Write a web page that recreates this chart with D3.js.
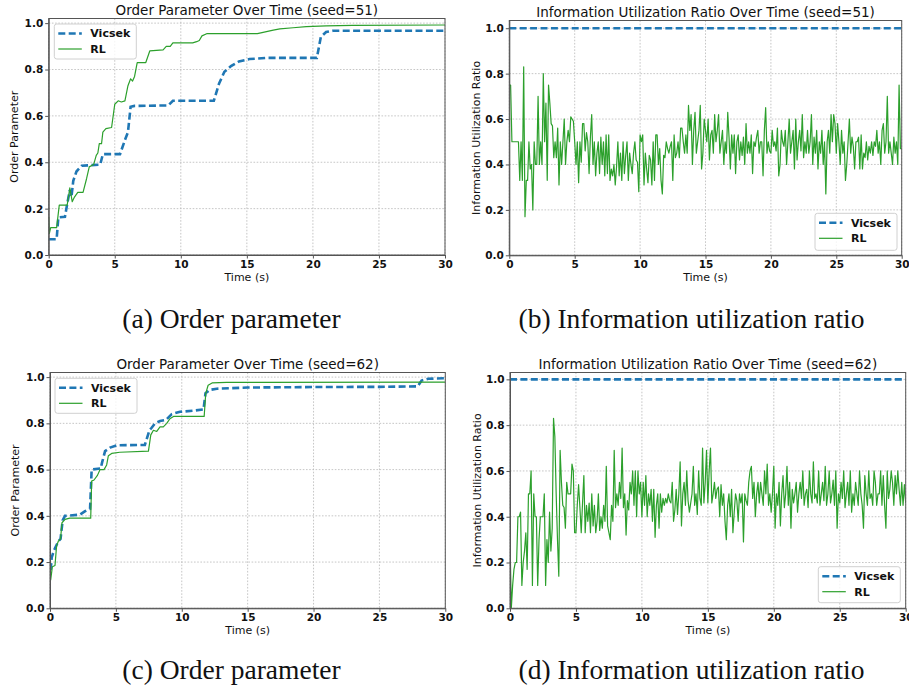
<!DOCTYPE html>
<html lang="en">
<head>
<meta charset="UTF-8">
<title>Order parameter and information utilization</title>
<script src="https://cdn.jsdelivr.net/npm/d3@7"></script>
<style>
  body { margin: 0; background: #fff; }
  svg { display: block; font-family: "DejaVu Sans", sans-serif; }
  .grid line { stroke: #b8b8b8; stroke-dasharray: 1.6,1.6; stroke-width: 0.8; }
  .axis path, .axis line { stroke: #555; stroke-width: 1; }
  .axis text { font-weight: bold; font-size: 10.5px; fill: #111; font-family: "DejaVu Sans", sans-serif; }
  .title { font-size: 13.5px; fill: #111; }
  .alabel { font-size: 11px; fill: #111; }
  .legend text { font-weight: bold; font-size: 11px; fill: #111; }
  .caption { font-family: "Liberation Serif", serif; font-size: 27.5px; fill: #111; }
</style>
</head>
<body>
<svg width="909" height="688"></svg>
<script>
var xTicks = [0, 5, 10, 15, 20, 25, 30];
var yTicks = [0, 0.2, 0.4, 0.6, 0.8, 1.0];
var seriesNames = ["Vicsek", "RL"];
var dt = 0.1;

// order parameter, seed 51  [time, value]
var order51Vicsek = [[0,0.068],[0.6,0.068],[0.73,0.162],[1.23,0.165],[1.4,0.22],[1.6,0.28],[1.72,0.25],[1.86,0.32],[2.1,0.36],[2.5,0.385],[3.9,0.39],[4.1,0.435],[5.4,0.435],[5.8,0.5],[6.0,0.53],[6.2,0.639],[6.5,0.643],[9.05,0.645],[9.4,0.665],[12.5,0.665],[12.9,0.74],[13.3,0.79],[13.8,0.815],[14.4,0.835],[15.2,0.845],[16.5,0.85],[20.3,0.85],[20.6,0.94],[21.0,0.962],[21.5,0.967],[30,0.967]];
var order51RL = [[0,0.165],[0.05,0.093],[0.15,0.118],[0.6,0.118],[0.8,0.215],[1.4,0.215],[1.6,0.29],[1.78,0.23],[1.95,0.25],[2.2,0.27],[2.6,0.27],[2.87,0.33],[3.07,0.38],[3.4,0.39],[3.6,0.43],[3.72,0.44],[3.83,0.48],[4.0,0.48],[4.1,0.53],[4.33,0.545],[4.76,0.55],[5.0,0.65],[5.26,0.665],[5.5,0.66],[5.77,0.665],[6.0,0.73],[6.2,0.76],[6.35,0.75],[6.5,0.77],[6.7,0.83],[7.35,0.83],[7.65,0.88],[8.66,0.885],[8.9,0.9],[9.2,0.9],[9.4,0.915],[10.9,0.915],[11.2,0.92],[11.4,0.925],[11.6,0.945],[12.0,0.955],[15.8,0.955],[17.0,0.97],[17.5,0.975],[18.5,0.98],[19.5,0.985],[21,0.988],[23,0.99],[30,0.992]];

// order parameter, seed 62
var order62Vicsek = [[0.05,0.165],[0.13,0.22],[0.3,0.25],[0.63,0.29],[0.8,0.3],[0.96,0.38],[1.14,0.4],[2.28,0.405],[2.66,0.42],[3.04,0.43],[3.16,0.6],[3.85,0.605],[3.95,0.63],[4.18,0.68],[4.56,0.695],[5.06,0.705],[7.2,0.707],[7.55,0.77],[7.7,0.78],[7.97,0.8],[8.35,0.81],[8.8,0.815],[9.24,0.84],[9.87,0.85],[10.9,0.855],[11.65,0.86],[11.8,0.93],[12.15,0.945],[12.66,0.95],[15,0.955],[20,0.957],[25,0.958],[27.9,0.96],[28.2,0.985],[28.7,0.993],[30,0.995]];
var order62RL = [[0.05,0.122],[0.18,0.18],[0.38,0.185],[0.5,0.27],[0.63,0.29],[0.8,0.3],[0.91,0.37],[1.14,0.385],[1.5,0.39],[3.09,0.39],[3.16,0.55],[3.34,0.555],[3.6,0.575],[3.8,0.6],[4.1,0.6],[4.3,0.62],[4.43,0.66],[4.68,0.67],[5.3,0.675],[7.47,0.68],[7.65,0.75],[7.85,0.77],[8.1,0.765],[8.35,0.785],[8.6,0.785],[8.86,0.8],[9.1,0.82],[9.37,0.83],[11.7,0.83],[11.82,0.93],[12.0,0.965],[12.3,0.975],[13.4,0.977],[30,0.978]];

// information utilization ratio, one value every 0.1 s
var util51Vicsek = [[0,1.0],[30,1.0]];
var util51RL = [
  0.75,0.75,0.5,0.5,0.5,0.5,0.5,0.5,0.33,0.5,
  0.33,0.83,0.17,0.33,0.33,0.5,0.38,0.4,0.2,0.5,
  0.4,0.4,0.7,0.4,0.5,0.4,0.8,0.5,0.67,0.33,
  0.75,0.67,0.58,0.57,0.43,0.5,0.43,0.56,0.31,0.5,
  0.4,0.5,0.6,0.4,0.5,0.55,0.5,0.61,0.6,0.59,
  0.5,0.4,0.5,0.32,0.5,0.41,0.58,0.58,0.46,0.54,
  0.5,0.36,0.52,0.62,0.4,0.5,0.35,0.45,0.5,0.36,
  0.52,0.4,0.5,0.35,0.53,0.36,0.53,0.33,0.38,0.35,
  0.4,0.31,0.39,0.5,0.35,0.45,0.33,0.5,0.36,0.44,
  0.5,0.33,0.45,0.4,0.36,0.45,0.5,0.42,0.41,0.28,
  0.53,0.5,0.53,0.31,0.45,0.38,0.32,0.44,0.42,0.31,
  0.5,0.33,0.53,0.53,0.4,0.47,0.33,0.27,0.44,0.43,
  0.5,0.47,0.45,0.48,0.5,0.33,0.53,0.43,0.45,0.5,
  0.43,0.56,0.56,0.5,0.45,0.53,0.45,0.66,0.55,0.62,
  0.4,0.55,0.63,0.45,0.5,0.55,0.66,0.38,0.45,0.6,
  0.55,0.5,0.6,0.42,0.53,0.55,0.45,0.62,0.5,0.55,
  0.62,0.45,0.5,0.55,0.4,0.5,0.45,0.63,0.52,0.38,
  0.53,0.45,0.53,0.36,0.5,0.53,0.42,0.5,0.44,0.52,
  0.4,0.58,0.45,0.5,0.45,0.53,0.36,0.5,0.48,0.52,
  0.55,0.45,0.5,0.5,0.35,0.55,0.65,0.45,0.5,0.46,
  0.45,0.55,0.48,0.5,0.46,0.56,0.35,0.4,0.55,0.5,
  0.48,0.55,0.4,0.5,0.6,0.45,0.5,0.55,0.38,0.6,
  0.42,0.5,0.55,0.46,0.62,0.43,0.5,0.45,0.55,0.45,
  0.5,0.62,0.4,0.52,0.45,0.55,0.38,0.5,0.45,0.55,
  0.4,0.5,0.27,0.5,0.55,0.45,0.62,0.5,0.62,0.58,
  0.45,0.58,0.5,0.4,0.55,0.45,0.5,0.33,0.4,0.5,
  0.6,0.45,0.52,0.48,0.38,0.5,0.5,0.52,0.38,0.53,
  0.38,0.45,0.43,0.5,0.42,0.48,0.45,0.5,0.44,0.5,
  0.48,0.55,0.45,0.5,0.4,0.55,0.58,0.45,0.5,0.7,
  0.45,0.5,0.45,0.4,0.52,0.45,0.5,0.4,0.75,0.47,
  0.47];
var util62Vicsek = [[0,1.0],[30,1.0]];
var util62RL = [
  0.3,0.0,0.1,0.17,0.2,0.2,0.4,0.4,0.42,0.1,
  0.2,0.25,0.33,0.17,0.5,0.5,0.6,0.1,0.5,0.4,
  0.4,0.1,0.3,0.4,0.4,0.4,0.5,0.1,0.3,0.2,
  0.42,0.25,0.35,0.83,0.75,0.5,0.3,0.14,0.69,0.55,
  0.45,0.44,0.35,0.55,0.5,0.5,0.5,0.63,0.6,0.33,
  0.33,0.45,0.54,0.44,0.33,0.46,0.58,0.33,0.45,0.38,
  0.46,0.33,0.5,0.36,0.45,0.33,0.38,0.5,0.34,0.4,
  0.35,0.45,0.38,0.62,0.36,0.33,0.3,0.45,0.38,0.69,
  0.44,0.5,0.45,0.55,0.48,0.7,0.44,0.5,0.32,0.47,
  0.43,0.55,0.5,0.6,0.45,0.6,0.4,0.6,0.5,0.55,
  0.4,0.55,0.45,0.58,0.4,0.5,0.45,0.52,0.38,0.52,
  0.31,0.45,0.5,0.35,0.5,0.42,0.48,0.45,0.48,0.46,
  0.5,0.47,0.46,0.55,0.38,0.43,0.52,0.41,0.5,0.64,
  0.36,0.5,0.55,0.45,0.6,0.47,0.42,0.46,0.5,0.62,
  0.45,0.5,0.41,0.6,0.48,0.45,0.7,0.46,0.55,0.69,
  0.46,0.6,0.7,0.46,0.5,0.55,0.48,0.52,0.53,0.4,
  0.54,0.45,0.5,0.38,0.3,0.45,0.5,0.4,0.52,0.33,
  0.42,0.5,0.47,0.38,0.5,0.46,0.5,0.29,0.5,0.47,
  0.45,0.55,0.6,0.62,0.48,0.55,0.4,0.5,0.55,0.46,
  0.55,0.5,0.45,0.6,0.5,0.63,0.45,0.5,0.42,0.5,
  0.62,0.35,0.5,0.45,0.55,0.36,0.5,0.58,0.44,0.5,
  0.62,0.45,0.55,0.35,0.52,0.46,0.5,0.55,0.42,0.5,
  0.55,0.48,0.6,0.45,0.5,0.52,0.44,0.6,0.5,0.46,
  0.64,0.48,0.5,0.46,0.6,0.45,0.5,0.55,0.47,0.62,
  0.45,0.5,0.6,0.46,0.5,0.56,0.45,0.6,0.35,0.5,
  0.46,0.55,0.48,0.6,0.44,0.5,0.55,0.45,0.6,0.42,
  0.5,0.45,0.55,0.5,0.45,0.6,0.5,0.45,0.35,0.58,
  0.5,0.45,0.6,0.48,0.5,0.45,0.6,0.55,0.45,0.5,
  0.5,0.6,0.45,0.58,0.45,0.35,0.6,0.48,0.52,0.6,
  0.55,0.45,0.58,0.5,0.6,0.52,0.45,0.55,0.45,0.54,
  0.46];

function toPairs(vals) {
  return vals.map(function (v, i) { return [i * dt, v]; });
}

var panels = [
  { id: "a", left: 48.7, right: 445, top: 18.5, bottom: 255, ymax: 1.02,
    title: "Order Parameter Over Time (seed=51)", ylabel: "Order Parameter", ylabelX: 14,
    vicsek: order51Vicsek, rl: order51RL,
    legend: { x: 54.3, y: 24, w: 82, h: 35 },
    caption: "(a) Order parameter", capX: 231.5, capY: 327.5 },
  { id: "b", left: 509.3, right: 901.7, top: 20.5, bottom: 255.3, ymax: 1.034,
    title: "Information Utilization Ratio Over Time (seed=51)", ylabel: "Information Utilization Ratio", ylabelX: 476,
    vicsek: util51Vicsek, rl: toPairs(util51RL),
    legend: { x: 815, y: 213.3, w: 82, h: 37 },
    caption: "(b) Information utilization ratio", capX: 691.5, capY: 327.5 },
  { id: "c", left: 50, right: 445.3, top: 372.5, bottom: 608.3, ymax: 1.02,
    title: "Order Parameter Over Time (seed=62)", ylabel: "Order Parameter", ylabelX: 15,
    vicsek: order62Vicsek, rl: order62RL,
    legend: { x: 55, y: 378.3, w: 82, h: 35 },
    caption: "(c) Order parameter", capX: 231.5, capY: 678.5 },
  { id: "d", left: 510, right: 905.7, top: 372.5, bottom: 608.3, ymax: 1.03,
    title: "Information Utilization Ratio Over Time (seed=62)", ylabel: "Information Utilization Ratio", ylabelX: 477,
    vicsek: util62Vicsek, rl: toPairs(util62RL),
    legend: { x: 818.3, y: 566.7, w: 82, h: 36 },
    caption: "(d) Information utilization ratio", capX: 691.5, capY: 678.5 }
];

var colors = { Vicsek: "#1f77b4", RL: "#2ca02c" };
var svg = d3.select("svg");

panels.forEach(function (p) {
  var x = d3.scaleLinear().domain([0, 30]).range([p.left, p.right]);
  var y = d3.scaleLinear().domain([0, p.ymax]).range([p.bottom, p.top]);
  var g = svg.append("g").attr("class", "panel-" + p.id);

  g.append("clipPath").attr("id", "clip-" + p.id)
    .append("rect")
    .attr("x", p.left).attr("y", p.top)
    .attr("width", p.right - p.left).attr("height", p.bottom - p.top);

  // grid
  var grid = g.append("g").attr("class", "grid");
  grid.selectAll(".gx").data(xTicks).enter().append("line")
    .attr("x1", function (d) { return x(d); }).attr("x2", function (d) { return x(d); })
    .attr("y1", p.top).attr("y2", p.bottom);
  grid.selectAll(".gy").data(yTicks).enter().append("line")
    .attr("y1", function (d) { return y(d); }).attr("y2", function (d) { return y(d); })
    .attr("x1", p.left).attr("x2", p.right);

  var line = d3.line()
    .x(function (d) { return x(d[0]); })
    .y(function (d) { return y(d[1]); });

  var lines = g.append("g").attr("clip-path", "url(#clip-" + p.id + ")");
  lines.append("path")
    .attr("d", line(p.vicsek))
    .attr("fill", "none")
    .attr("stroke", colors.Vicsek)
    .attr("stroke-width", 2.6)
    .attr("stroke-dasharray", "7,3.4");
  lines.append("path")
    .attr("d", line(p.rl))
    .attr("fill", "none")
    .attr("stroke", colors.RL)
    .attr("stroke-width", 1.2)
    .attr("stroke-linejoin", "round");

  // axes
  g.append("g").attr("class", "axis")
    .attr("transform", "translate(0," + p.bottom + ")")
    .call(d3.axisBottom(x).tickValues(xTicks).tickSize(3.5).tickPadding(2).tickSizeOuter(0));
  g.append("g").attr("class", "axis")
    .attr("transform", "translate(" + p.left + ",0)")
    .call(d3.axisLeft(y).tickValues(yTicks).tickFormat(d3.format(".1f")).tickSize(3.5).tickPadding(2).tickSizeOuter(0));

  // frame
  g.append("rect")
    .attr("x", p.left).attr("y", p.top)
    .attr("width", p.right - p.left).attr("height", p.bottom - p.top)
    .attr("fill", "none").attr("stroke", "#555").attr("stroke-width", 1);

  g.append("text").attr("class", "title")
    .attr("x", (p.left + p.right) / 2).attr("y", p.top - 4)
    .attr("text-anchor", "middle").text(p.title);
  g.append("text").attr("class", "alabel")
    .attr("x", (p.left + p.right) / 2).attr("y", p.bottom + 26)
    .attr("text-anchor", "middle").text("Time (s)");
  g.append("text").attr("class", "alabel")
    .attr("transform", "translate(" + p.ylabelX + "," + ((p.top + p.bottom) / 2) + ") rotate(-90)")
    .attr("dy", "0.35em")
    .attr("text-anchor", "middle").text(p.ylabel);

  // legend
  var lg = g.append("g").attr("class", "legend")
    .attr("transform", "translate(" + p.legend.x + "," + p.legend.y + ")");
  lg.append("rect")
    .attr("width", p.legend.w).attr("height", p.legend.h)
    .attr("rx", 2.5)
    .attr("fill", "#fff").attr("fill-opacity", 0.8)
    .attr("stroke", "#d0d0d0");
  seriesNames.forEach(function (name, i) {
    var ly = 9.5 + i * 15.5;
    lg.append("line")
      .attr("x1", 4).attr("x2", 27.5).attr("y1", ly).attr("y2", ly)
      .attr("stroke", colors[name])
      .attr("stroke-width", name === "Vicsek" ? 2.6 : 1.2)
      .attr("stroke-dasharray", name === "Vicsek" ? "7,3.4" : null);
    lg.append("text").attr("x", 36).attr("y", ly).attr("dy", "0.36em").text(name);
  });

  svg.append("text").attr("class", "caption")
    .attr("x", p.capX).attr("y", p.capY)
    .attr("text-anchor", "middle").text(p.caption);
});
</script>
</body>
</html>
